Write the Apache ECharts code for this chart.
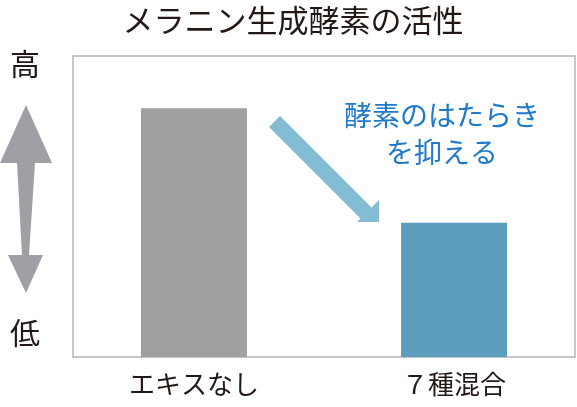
<!DOCTYPE html>
<html lang="ja">
<head>
<meta charset="UTF-8" />
<title>メラニン生成酵素の活性</title>
<script src="https://cdn.jsdelivr.net/npm/echarts@6/dist/echarts.min.js"></script>
<style>
    html, body { margin: 0; padding: 0; background: #fff; }
    #main { width: 577px; height: 407px; }
</style>
</head>
<body>
<div id="main"></div>
<script>
    // data
    const categories = ['エキスなし', '７種混合'];
    const activity = [100, 54];
    const barColors = ['#a0a0a0', '#5c9cbd'];

    const font = '"Noto Sans CJK JP", "Noto Sans", sans-serif';
    const chart = echarts.init(document.getElementById('main'));

    const option = {
        animation: false,
        grid: {
            left: 73, right: 2, top: 56, bottom: 50,
            show: true,
            borderColor: '#b4b4b4',
            borderWidth: 1.5
        },
        xAxis: {
            type: 'value',
            min: -0.465,
            max: 1.465,
            axisLine: { show: false },
            axisTick: { show: false },
            splitLine: { show: false },
            axisLabel: {
                customValues: [0, 1],
                formatter: v => categories[Math.round(v)],
                fontSize: 26,
                fontFamily: font,
                color: '#231815',
                margin: 14
            }
        },
        yAxis: {
            type: 'value',
            min: 0,
            max: 121,
            axisLine: { show: false },
            axisTick: { show: false },
            splitLine: { show: false },
            axisLabel: { show: false }
        },
        series: [{
            type: 'bar',
            barWidth: 106,
            data: activity.map((v, i) => ({
                value: [i, v],
                itemStyle: { color: barColors[i] }
            }))
        }],
        graphic: [
            {
                type: 'text', x: 293, y: 20,
                style: {
                    text: 'メラニン生成酵素の活性', fontSize: 31, fontFamily: font,
                    fill: '#231815', align: 'center', verticalAlign: 'middle'
                }
            },
            {
                type: 'text', x: 25, y: 64,
                style: {
                    text: '高', fontSize: 30, fontFamily: font,
                    fill: '#231815', align: 'center', verticalAlign: 'middle'
                }
            },
            {
                type: 'text', x: 25, y: 333,
                style: {
                    text: '低', fontSize: 30, fontFamily: font,
                    fill: '#231815', align: 'center', verticalAlign: 'middle'
                }
            },
            {
                // double arrow on the left
                type: 'polygon',
                shape: {
                    points: [[26, 105], [52, 163], [35, 163], [29, 255], [43, 255],
                             [26, 293], [8, 255], [22, 255], [17, 163], [0, 163]]
                },
                style: { fill: '#a09fa5' }
            },
            {
                // blue arrow pointing down
                type: 'polygon',
                shape: {
                    points: [[280, 116], [371.5, 207.5], [379, 200], [379, 222],
                             [357, 222], [360.5, 218.5], [269, 127]]
                },
                style: { fill: '#84bcd3' }
            },
            {
                type: 'text', x: 442, y: 134,
                style: {
                    text: '酵素のはたらき\nを抑える', fontSize: 28, lineHeight: 37,
                    fontFamily: font, fill: '#1f7acb',
                    align: 'center', verticalAlign: 'middle'
                }
            }
        ]
    };

    chart.setOption(option);
</script>
</body>
</html>
